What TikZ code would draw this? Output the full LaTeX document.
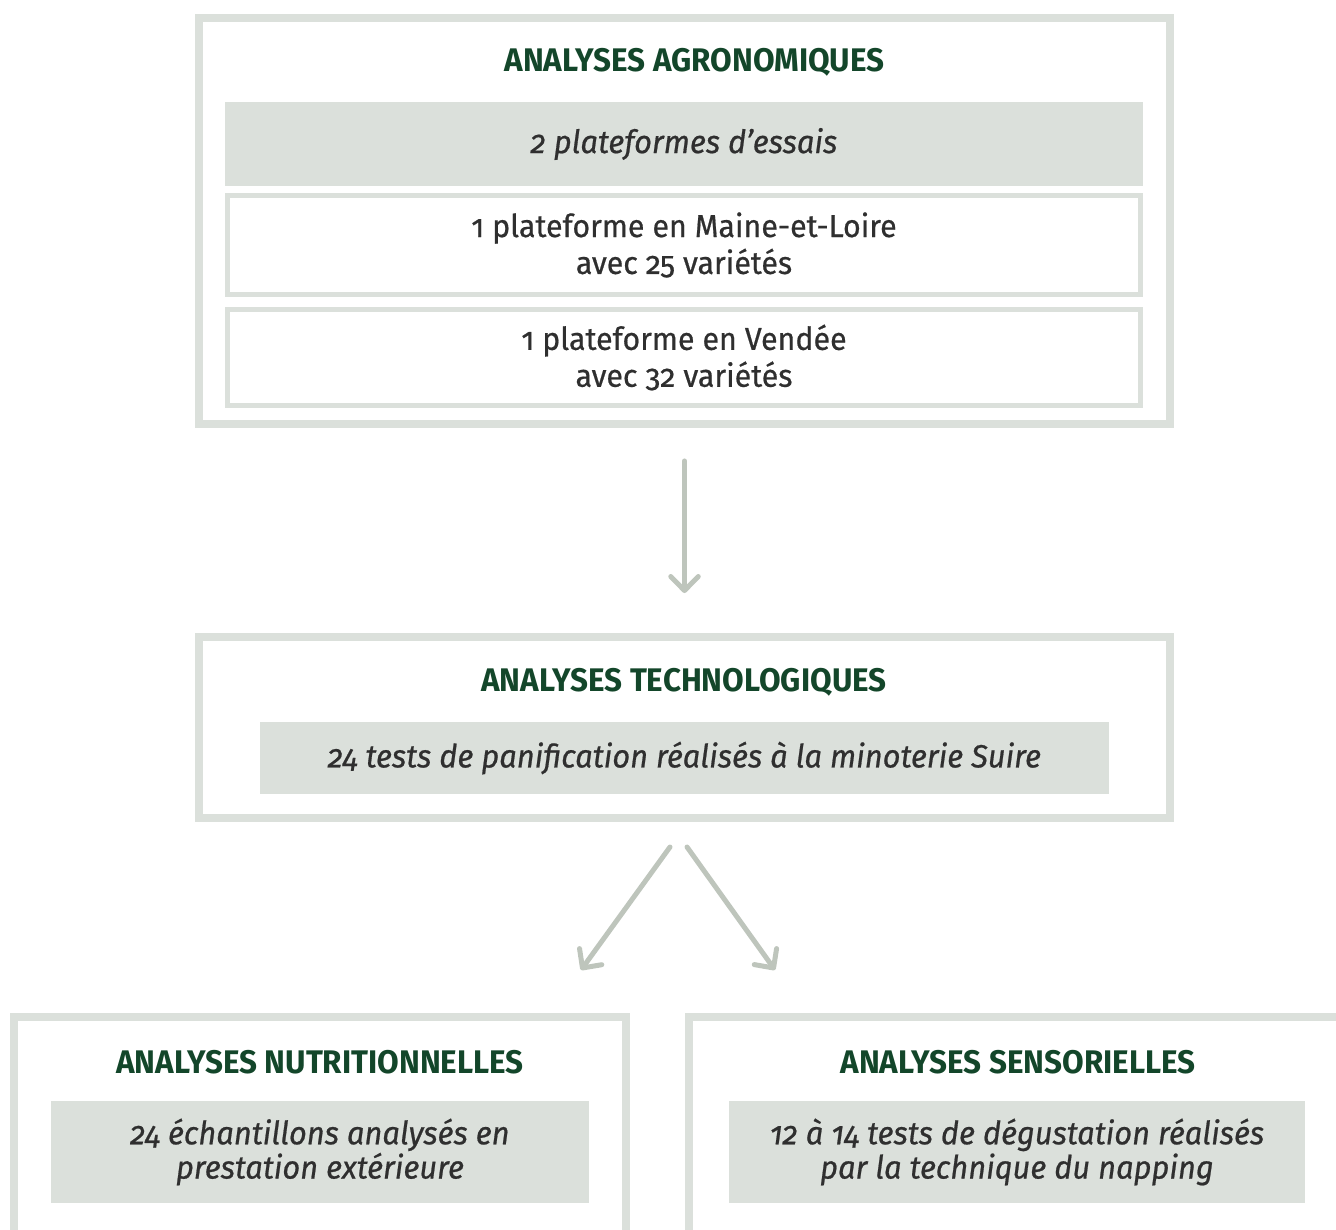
\documentclass[tikz,border=0pt]{standalone}
\usepackage{fontspec}
\setmainfont[Numbers=OldStyle,FakeStretch=0.96]{Fira Sans}
\newfontfamily\corps[Numbers=OldStyle,FakeStretch=0.96,FakeBold=0.6]{Fira Sans}
\usepackage{tikz}
\usetikzlibrary{arrows.meta}

\definecolor{gris}{HTML}{DBE0DB}
\definecolor{fleche}{HTML}{BEC5BC}
\definecolor{vert}{HTML}{13462A}
\definecolor{encre}{HTML}{2F2F2F}

\tikzset{
  cadre/.style={draw=gris, line width=0.16cm, inner sep=0pt},
  boite/.style={draw=gris, line width=0.1cm, align=center, text=encre,
    font=\corps\fontsize{18}{21}\selectfont},
  bande/.style={fill=gris, align=center, text=encre,
    font=\corps\fontsize{18.3}{19.5}\selectfont\itshape},
  titre/.style={text=vert, font=\fontsize{18.6}{22}\selectfont\bfseries},
  liaison/.style={draw=fleche, line width=0.1cm, line cap=round,
    -{Straight Barb[length=0.28cm,width=0.55cm,round]}}
}

\begin{document}
\begin{tikzpicture}[x=0.02cm, y=-0.02cm]
\useasboundingbox (0,0) rectangle (1336,1230) ;
\clip (0,0) rectangle (1336,1230) ;

% analyses agronomiques
\node[cadre, minimum width=19.42cm, minimum height=8.12cm] (agro) at (684.5,221) {} ;
\node[titre] (agrotitre) at (694.5,62) {ANALYSES AGRONOMIQUES} ;
\node[bande, minimum width=18.36cm, minimum height=1.68cm] (essais) at (684,144) {2 plateformes d’essais} ;
\node[boite, minimum width=18.26cm, minimum height=1.98cm] (maine) at (684,245) {1 plateforme en Maine-et-Loire\\avec 25 variétés} ;
\node[boite, minimum width=18.26cm, minimum height=1.92cm] (vendee) at (684,357.5) {1 plateforme en Vendée\\avec 32 variétés} ;

% analyses technologiques
\node[cadre, minimum width=19.42cm, minimum height=3.62cm] (techno) at (684.5,727.5) {} ;
\node[titre] (technotitre) at (684,682) {ANALYSES TECHNOLOGIQUES} ;
\node[bande, minimum width=16.98cm, minimum height=1.44cm] (panif) at (684.5,758) {24 tests de panification réalisés à la minoterie Suire} ;

% analyses nutritionnelles et sensorielles
\node[cadre, minimum width=12.24cm, minimum height=5.66cm] (nutri) at (320,1158.5) {} ;
\node[titre] (nutrititre) at (320,1062) {ANALYSES NUTRITIONNELLES} ;
\node[bande, minimum width=10.76cm, minimum height=2.04cm] (echant) at (320,1152) {24 échantillons analysés en\\prestation extérieure} ;
\node[cadre, minimum width=14.22cm, minimum height=5.66cm] (senso) at (1044.5,1158.5) {} ;
\node[titre] (sensotitre) at (1018,1062) {ANALYSES SENSORIELLES} ;
\node[bande, minimum width=11.52cm, minimum height=2.04cm] (degust) at (1017,1152) {12 à 14 tests de dégustation réalisés\\par la technique du napping} ;

% fleches
\coordinate (departG) at (670,847) ;
\coordinate (departD) at (687,847) ;
\coordinate (arriveeG) at (581,970) ;
\coordinate (arriveeD) at (775,970) ;
\draw[liaison, shorten <=0.66cm, shorten >=0.8cm] (agro.south) -- (techno.north) ;
\draw[liaison] (departG) -- (arriveeG) ;
\draw[liaison] (departD) -- (arriveeD) ;
\end{tikzpicture}
\end{document}
